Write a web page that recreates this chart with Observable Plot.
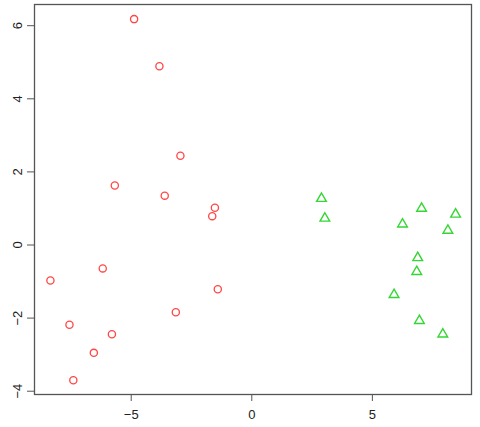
<!DOCTYPE html>
<html>
<head>
<meta charset="utf-8">
<script src="https://cdn.jsdelivr.net/npm/d3@7"></script>
<script src="https://cdn.jsdelivr.net/npm/@observablehq/plot@0.6"></script>
<style>
  html, body { margin: 0; padding: 0; background: #fff; }
</style>
</head>
<body>
<div id="chart"></div>
<script>
const redX = [-4.88, -3.83, -2.96, -5.68, -3.61, -1.53, -1.64, -6.18, -8.35, -1.41, -3.15, -7.56, -5.80, -6.55, -7.40];
const redY = [6.18, 4.89, 2.44, 1.63, 1.35, 1.02, 0.79, -0.64, -0.97, -1.21, -1.84, -2.18, -2.44, -2.95, -3.70];
const greenX = [2.89, 3.03, 7.04, 8.45, 6.25, 8.13, 6.88, 6.84, 5.90, 6.95, 7.92];
const greenY = [1.27, 0.73, 1.00, 0.84, 0.57, 0.40, -0.35, -0.73, -1.36, -2.07, -2.44];
const xTicks = [-5, 0, 5];
const yTicks = [-4, -2, 0, 2, 4, 6];

const red = redX.map((x, i) => ({x, y: redY[i]}));
const green = greenX.map((x, i) => ({x, y: greenY[i]}));

const chart = Plot.plot({
  width: 480,
  height: 427,
  marginLeft: 34,
  marginRight: 9,
  marginTop: 4,
  marginBottom: 33,
  style: {fontFamily: "'Liberation Sans', Arial, sans-serif", fontSize: "12px", color: "#222", background: "#fff"},
  x: {domain: [-9.01, 9.11]},
  y: {domain: [-4.09, 6.58]},
  marks: [
    Plot.frame({stroke: "#555", strokeWidth: 1.3}),
    Plot.axisX({ticks: xTicks, tickSize: 7, tickPadding: 8, label: null, stroke: "#555", fontSize: 13}),
    Plot.axisY({ticks: yTicks, tickSize: 7, tickPadding: 6, tickRotate: -90, label: null, stroke: "#555", fontSize: 13}),
    Plot.dot(red, {x: "x", y: "y", symbol: "circle", r: 3.6, stroke: "#ff4646", strokeWidth: 1.3}),
    Plot.dot(green, {x: "x", y: "y", symbol: "triangle", r: 3.6, stroke: "#33d633", strokeWidth: 1.4})
  ]
});
document.getElementById("chart").appendChild(chart);
</script>
</body>
</html>
